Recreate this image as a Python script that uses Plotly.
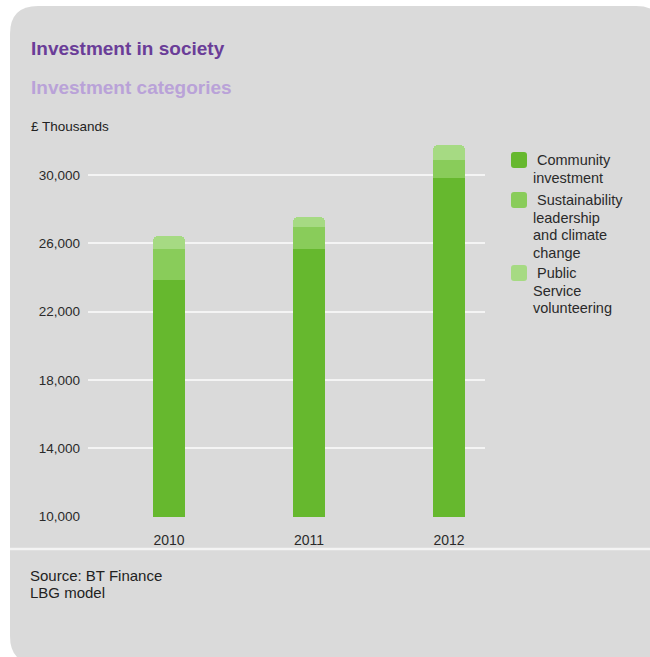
import plotly.graph_objects as go

# ---- data (£ thousands) ----
years = ["2010", "2011", "2012"]
community = [23860, 25670, 29830]
sustainability = [1810, 1290, 1050]
public_service = [760, 590, 880]

series_names = ["Community investment",
                "Sustainability leadership and climate change",
                "Public Service volunteering"]
legend_lines = [["Community", "investment"],
                ["Sustainability", "leadership", "and climate", "change"],
                ["Public", "Service", "volunteering"]]
y_ticks = [10000, 14000, 18000, 22000, 26000, 30000]
y_tick_text = ["10,000", "14,000", "18,000", "22,000", "26,000", "30,000"]

colors = ["#66b82e", "#89cc5a", "#a6da83"]
FONT = "Liberation Sans, Arial, sans-serif"

W, H = 650, 657
L, R, T, B = 88, 485, 140, 517     # plot area in pixels


def px(x):
    return (x - L) / (R - L)


def py(y):
    return (B - y) / (B - T)


def rounded_rect(xa, ya, xb, yb, r):
    pts = [
        f"M {px(xa + r)},{py(ya)}", f"L {px(xb - r)},{py(ya)}",
        f"Q {px(xb)},{py(ya)} {px(xb)},{py(ya + r)}", f"L {px(xb)},{py(yb - r)}",
        f"Q {px(xb)},{py(yb)} {px(xb - r)},{py(yb)}", f"L {px(xa + r)},{py(yb)}",
        f"Q {px(xa)},{py(yb)} {px(xa)},{py(yb - r)}", f"L {px(xa)},{py(ya + r)}",
        f"Q {px(xa)},{py(ya)} {px(xa + r)},{py(ya)}", "Z",
    ]
    return " ".join(pts)


fig = go.Figure()
for name, vals, col in zip(series_names, [community, sustainability, public_service], colors):
    fig.add_trace(go.Bar(x=years, y=vals, name=name, marker=dict(color=col, line=dict(width=0)),
                         width=0.229, showlegend=False))

shapes = [
    # card background
    dict(type="path", xref="paper", yref="paper", path=rounded_rect(10, 6, 664, 664, 28),
         fillcolor="#dadada", line=dict(width=0), layer="below"),
    # divider above the source note
    dict(type="line", xref="paper", yref="paper", x0=px(10), x1=px(652), y0=py(549), y1=py(549),
         line=dict(color="#f4f4f4", width=2.5), layer="below"),
]

annotations = [
    dict(text="<b>Investment in society</b>", x=px(29), y=py(48), xanchor="left", yanchor="middle",
         font=dict(family=FONT, size=19, color="#6a3d98")),
    dict(text="<b>Investment categories</b>", x=px(29), y=py(87), xanchor="left", yanchor="middle",
         font=dict(family=FONT, size=19, color="#b9a2d8")),
    dict(text="£ Thousands", x=px(29), y=py(126), xanchor="left", yanchor="middle",
         font=dict(family=FONT, size=13.5, color="#222222")),
    dict(text="Source: BT Finance", x=px(28), y=py(575), xanchor="left", yanchor="middle",
         font=dict(family=FONT, size=15, color="#222222")),
    dict(text="LBG model", x=px(28), y=py(592), xanchor="left", yanchor="middle",
         font=dict(family=FONT, size=15, color="#222222")),
]

# legend: rounded swatches and wrapped labels
swatch_top = [152, 192, 265]
for col, lines, top in zip(colors, legend_lines, swatch_top):
    shapes.append(dict(type="path", xref="paper", yref="paper",
                       path=rounded_rect(511, top, 527, top + 16, 3),
                       fillcolor=col, line=dict(width=0)))
    for i, ln in enumerate(lines):
        annotations.append(dict(text=ln, x=px(535 if i == 0 else 531), y=py(top + 8 + i * 17.7),
                                xanchor="left", yanchor="middle",
                                font=dict(family=FONT, size=14.5, color="#2a2a2a")))

for a in annotations:
    a.update(xref="paper", yref="paper", showarrow=False)

fig.update_layout(
    width=W, height=H,
    margin=dict(l=L, r=W - R, t=T, b=H - B, pad=0),
    paper_bgcolor="white", plot_bgcolor="rgba(0,0,0,0)",
    barmode="stack", barcornerradius=5,
    shapes=shapes, annotations=annotations,
    showlegend=False,
    xaxis=dict(range=[-0.579, 2.257], showgrid=False, zeroline=False, showline=False,
               ticks="", ticklabelstandoff=13,
               tickfont=dict(family=FONT, size=14, color="#2a2a2a")),
    yaxis=dict(range=[9960, 32050], tickvals=y_ticks, ticktext=y_tick_text,
               showgrid=True, gridcolor="#f4f4f4", gridwidth=2, zeroline=False, showline=False,
               ticks="", ticklabelstandoff=7,
               tickfont=dict(family=FONT, size=13.5, color="#2a2a2a")),
)

fig.write_html("out.html")
